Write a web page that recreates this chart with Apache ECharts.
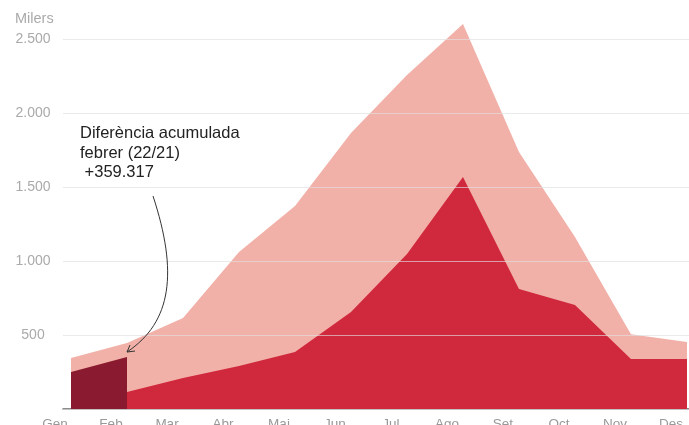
<!DOCTYPE html>
<html>
<head>
<meta charset="utf-8">
<style>
  html, body { margin: 0; padding: 0; background: #fff; }
  #chart { width: 689px; height: 425px; }
</style>
<script src="https://cdn.jsdelivr.net/npm/echarts@6/dist/echarts.min.js"></script>
</head>
<body>
<div id="chart"></div>
<script>
const months = ['Gen', 'Feb', 'Mar', 'Abr', 'Mai', 'Jun', 'Jul', 'Ago', 'Set', 'Oct', 'Nov', 'Des']
const year22 = [345, 446, 615, 1061, 1372, 1865, 2257, 2601, 1737, 1162, 505, 453]
const year21 = [null, 115, 209, 290, 385, 655, 1047, 1568, 811, 703, 338, 338]
const diffGenFeb = [250, 351]
const yTicks = [0, 500, 1000, 1500, 2000, 2500]

const toPairs = arr => arr.map((v, i) => [i, v])
const font = 'Liberation Sans, Arial, sans-serif'

const chart = echarts.init(document.getElementById('chart'))

const areaSeries = (name, data, color, z) => ({
  name: name,
  type: 'line',
  data: toPairs(data),
  symbol: 'none',
  z: z,
  clip: false,
  lineStyle: { width: 0 },
  areaStyle: { color: color, opacity: 1 },
  silent: true
})

chart.setOption({
  animation: false,
  grid: { left: 63, right: 0, top: 39, bottom: 16, outerBoundsMode: 'none' },
  xAxis: {
    type: 'value',
    min: -0.143,
    max: 11.036,
    splitLine: { show: false },
    axisLine: { lineStyle: { color: '#666', width: 1.5 } },
    axisTick: { show: false },
    axisLabel: {
      customValues: months.map((m, i) => i),
      formatter: v => months[Math.round(v)] || '',
      color: '#999',
      fontFamily: font,
      fontSize: 13.5,
      margin: 8,
      padding: [0, 32, 0, 0]
    }
  },
  yAxis: {
    type: 'value',
    min: 0,
    max: 2500,
    interval: 500,
    z: 10,
    axisLine: { show: false },
    axisTick: { show: false },
    splitLine: { lineStyle: { color: 'rgba(222,222,222,0.65)', width: 1.2 } },
    axisLabel: {
      formatter: v => (yTicks.indexOf(v) > 0 ? v.toLocaleString('de-DE') : ''),
      color: '#aaa',
      fontFamily: font,
      fontSize: 14,
      align: 'center',
      margin: 30
    }
  },
  series: [
    areaSeries('2022', year22, '#f2b1a8', 2),
    areaSeries('2021', year21, '#d0283c', 3),
    areaSeries('Diferència', diffGenFeb, '#8a1a2f', 4)
  ],
  graphic: [
    {
      type: 'text',
      left: 15,
      top: 11,
      z: 100,
      style: { text: 'Milers', fill: '#aaa', fontSize: 14.5, fontFamily: font }
    },
    {
      type: 'text',
      left: 80,
      top: 124,
      z: 100,
      style: {
        text: 'Diferència acumulada\nfebrer (22/21)\n +359.317',
        fill: '#222',
        fontSize: 16.5,
        lineHeight: 19.5,
        fontFamily: font
      }
    },
    {
      type: 'bezierCurve',
      z: 100,
      shape: { x1: 153, y1: 196, cpx1: 178, cpy1: 272, cpx2: 172, cpy2: 322, x2: 127, y2: 352 },
      style: { stroke: '#333', lineWidth: 1, fill: null }
    },
    {
      type: 'polyline',
      z: 100,
      shape: { points: [[130, 345], [127, 352], [135, 351]] },
      style: { stroke: '#333', lineWidth: 1, fill: null }
    }
  ]
})
</script>
</body>
</html>
